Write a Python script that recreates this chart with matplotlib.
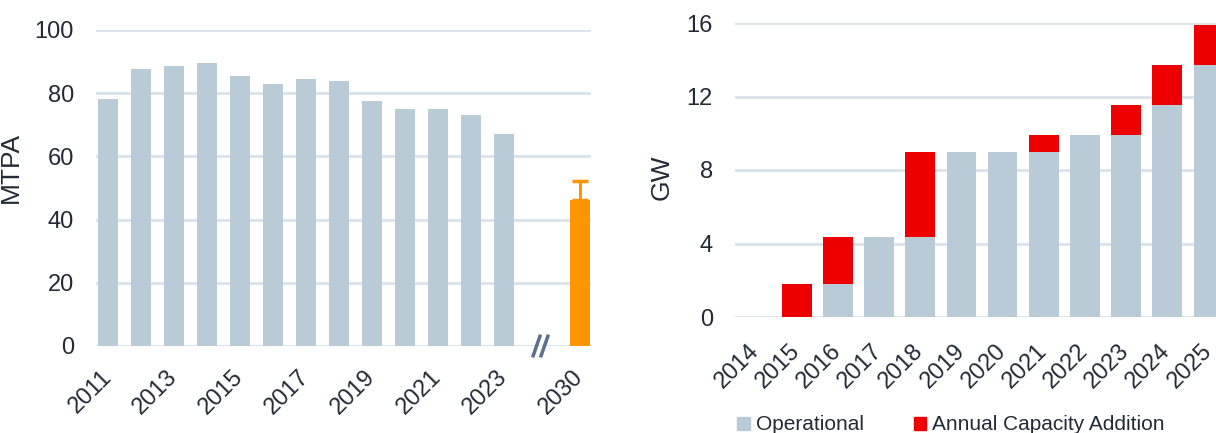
import matplotlib
matplotlib.use("Agg")
import matplotlib.pyplot as plt
from matplotlib.patches import Patch
import numpy as np

plt.rcParams['font.family'] = ['Liberation Sans', 'DejaVu Sans']

# Left chart data
years_left = [2011, 2012, 2013, 2014, 2015, 2016, 2017, 2018, 2019, 2020, 2021, 2022, 2023]
mtpa = [78.2, 87.5, 88.5, 89.5, 85.5, 83.0, 84.5, 84.0, 77.5, 75.0, 75.0, 73.0, 67.0]
proj_year = 2030
proj_value = 46.2
proj_err_top = 52.2
left_ticklabels = ['2011', '2013', '2015', '2017', '2019', '2021', '2023', '2030']

# Right chart data
years_right = ['2014', '2015', '2016', '2017', '2018', '2019', '2020', '2021', '2022', '2023', '2024', '2025']
operational = [0, 0, 1.8, 4.35, 4.35, 9.0, 9.0, 9.0, 9.9, 9.9, 11.55, 13.7]
addition = [0, 1.8, 2.55, 0, 4.65, 0, 0, 0.9, 0, 1.65, 2.15, 2.2]

GRAY = '#B9CBD7'
RED = '#EE0000'
ORANGE = '#FF9500'
GRID = '#D9E2EA'
TXT = '#222B35'

W, H = 1216, 433
fig = plt.figure(figsize=(W/100, H/100), dpi=100)

# ---------- Left axes ----------
axL = fig.add_axes([96/W, (H-346)/H, 495/W, 316/H])
xL = np.arange(len(years_left))
axL.bar(xL, mtpa, width=0.62, color=GRAY, zorder=2)
proj_x = 14.3
axL.bar([proj_x], [proj_value], width=0.62, color=ORANGE, zorder=2)
axL.errorbar([proj_x], [proj_value], yerr=[[0], [proj_err_top - proj_value]],
             fmt='none', ecolor=ORANGE, elinewidth=2.2, capsize=6, capthick=2.5, zorder=3)
axL.set_xlim(-0.37, 14.63)
axL.set_ylim(0, 100)
axL.set_yticks([0, 20, 40, 60, 80, 100])
axL.yaxis.grid(True, color=GRID, linewidth=2, zorder=0)
axL.set_axisbelow(True)
for s in axL.spines.values():
    s.set_visible(False)
axL.tick_params(axis='both', length=0, labelsize=17, colors=TXT)
axL.tick_params(axis='y', pad=16)
tick_pos = [0, 2, 4, 6, 8, 10, 12, proj_x]
axL.set_xticks(tick_pos)
axL.set_xticklabels(left_ticklabels, rotation=45, ha='right', va='center',
                    rotation_mode='anchor')
axL.tick_params(axis='x', pad=20)
axL.set_ylabel('MTPA', fontsize=19, color=TXT)
axL.yaxis.set_label_coords(-0.147, 0.566)
# break mark
for dx in (-0.12, 0.12):
    axL.plot([13.1 + dx - 0.12, 13.1 + dx + 0.12], [-3.6, 3.6], color='#5B708A',
             linewidth=2.5, clip_on=False, zorder=5, solid_capstyle='butt')

# ---------- Right axes ----------
axR = fig.add_axes([735/W, (H-317)/H, 494/W, 294/H])
xR = np.arange(len(years_right))
axR.bar(xR, operational, width=0.72, color=GRAY, zorder=2)
axR.bar(xR, addition, width=0.72, bottom=operational, color=RED, zorder=2)
axR.set_xlim(-0.5, 11.5)
axR.set_ylim(0, 16)
axR.set_yticks([0, 4, 8, 12, 16])
axR.yaxis.grid(True, color=GRID, linewidth=2, zorder=0)
axR.set_axisbelow(True)
for s in axR.spines.values():
    s.set_visible(False)
axR.tick_params(axis='both', length=0, labelsize=17, colors=TXT)
axR.tick_params(axis='y', pad=16)
axR.set_xticks(xR)
axR.set_xticklabels(years_right, rotation=45, ha='right', va='center',
                    rotation_mode='anchor')
axR.tick_params(axis='x', pad=22)
axR.set_ylabel('GW', fontsize=19, color=TXT)
axR.yaxis.set_label_coords(-0.1245, 0.476)

handles = [Patch(color=GRAY), Patch(color=RED)]
fig.legend(handles, ['Operational', 'Annual Capacity Addition'],
           loc='center left', bbox_to_anchor=(737/W, 8/H), ncol=2, frameon=False,
           fontsize=15, handlelength=0.6, handleheight=0.6, handletextpad=0.3,
           columnspacing=2.4, labelcolor=TXT, borderaxespad=0, borderpad=0)

fig.savefig('out.png', dpi=100)
